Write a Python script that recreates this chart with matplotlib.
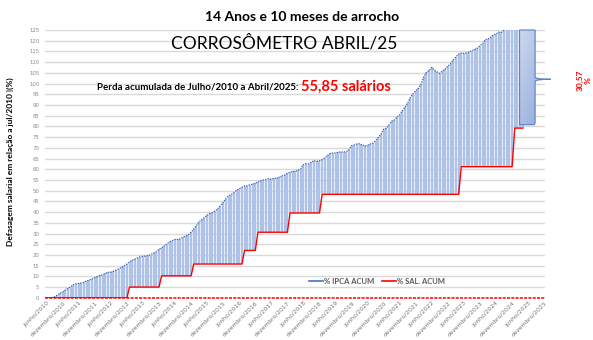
import numpy as np
import matplotlib
matplotlib.use("Agg")
import matplotlib.pyplot as plt
from matplotlib.path import Path
from matplotlib.patches import PathPatch
from matplotlib.lines import Line2D
from matplotlib.colors import LinearSegmentedColormap

# % IPCA acumulado desde jun/2010 (um valor por mes)
ipca_2010 = [0.00, 0.01, 0.05, 0.50, 1.25, 2.09, 2.74]  # jun-dez
ipca_2011 = [3.59, 4.42, 5.24, 6.05, 6.55, 6.71, 6.88, 7.27, 7.84, 8.31, 8.87, 9.41]
ipca_2012 = [10.02, 10.52, 10.75, 11.46, 11.86, 11.95, 12.43, 12.89, 13.53, 14.20, 14.89, 15.79]
ipca_2013 = [16.79, 17.49, 18.04, 18.69, 19.13, 19.44, 19.48, 19.77, 20.19, 20.87, 21.52, 22.64]
ipca_2014 = [23.31, 24.16, 25.30, 26.14, 26.72, 27.23, 27.24, 27.56, 28.29, 28.83, 29.49, 30.50]
ipca_2015 = [32.12, 33.73, 35.49, 36.45, 37.46, 38.55, 39.41, 39.72, 40.47, 41.62, 43.05, 44.42]
ipca_2016 = [46.25, 47.57, 48.21, 49.11, 50.27, 50.80, 51.58, 52.25, 52.37, 52.77, 53.04, 53.50]
ipca_2017 = [54.08, 54.59, 54.98, 55.20, 55.68, 55.32, 55.69, 55.99, 56.24, 56.90, 57.34, 58.03]
ipca_2018 = [58.49, 59.00, 59.14, 59.49, 60.13, 62.15, 62.68, 62.54, 63.32, 64.05, 63.71, 63.95]
ipca_2019 = [64.48, 65.19, 66.43, 67.38, 67.59, 67.61, 67.93, 68.11, 68.04, 68.21, 69.07, 71.01]
ipca_2020 = [71.37, 71.80, 71.92, 71.39, 70.74, 71.18, 71.80, 72.21, 73.31, 74.80, 76.36, 78.74]
ipca_2021 = [79.19, 80.73, 82.41, 82.97, 84.49, 85.47, 87.25, 88.88, 91.07, 93.46, 95.30, 96.72]
ipca_2022 = [97.78, 99.78, 103.02, 105.17, 106.13, 107.51, 106.10, 105.36, 104.76, 105.97, 106.81, 108.10]
ipca_2023 = [109.20, 110.96, 112.46, 113.75, 114.24, 114.07, 114.33, 114.82, 115.38, 115.90, 116.50, 117.72]
ipca_2024 = [118.63, 120.45, 120.80, 121.64, 122.66, 123.13, 123.98, 123.93, 124.92, 126.18, 127.06, 128.24]
ipca_2025 = [128.61, 131.60, 132.90, 133.90]  # jan-abr

# % reajuste salarial acumulado
sal_2010 = [0, 0, 0, 0, 0, 0, 0]
sal_2011 = [0, 0, 0, 0, 0, 0, 0, 0, 0, 0, 0, 0]
sal_2012 = [0, 0, 0, 0, 0, 0, 0, 0, 0, 0, 0, 0]
sal_2013 = [5.0, 5.0, 5.0, 5.0, 5.0, 5.0, 5.0, 5.0, 5.0, 5.0, 5.0, 5.0]
sal_2014 = [10.25, 10.25, 10.25, 10.25, 10.25, 10.25, 10.25, 10.25, 10.25, 10.25, 10.25, 10.25]
sal_2015 = [15.76, 15.76, 15.76, 15.76, 15.76, 15.76, 15.76, 15.76, 15.76, 15.76, 15.76, 15.76]
sal_2016 = [15.76, 15.76, 15.76, 15.76, 15.76, 15.76, 15.76, 22.1, 22.1, 22.1, 22.1, 22.1]
sal_2017 = [30.6, 30.6, 30.6, 30.6, 30.6, 30.6, 30.6, 30.6, 30.6, 30.6, 30.6, 30.6]
sal_2018 = [39.6, 39.6, 39.6, 39.6, 39.6, 39.6, 39.6, 39.6, 39.6, 39.6, 39.6, 39.6]
sal_2019 = [48.3, 48.3, 48.3, 48.3, 48.3, 48.3, 48.3, 48.3, 48.3, 48.3, 48.3, 48.3]
sal_2020 = [48.3, 48.3, 48.3, 48.3, 48.3, 48.3, 48.3, 48.3, 48.3, 48.3, 48.3, 48.3]
sal_2021 = [48.3, 48.3, 48.3, 48.3, 48.3, 48.3, 48.3, 48.3, 48.3, 48.3, 48.3, 48.3]
sal_2022 = [48.3, 48.3, 48.3, 48.3, 48.3, 48.3, 48.3, 48.3, 48.3, 48.3, 48.3, 48.3]
sal_2023 = [48.3, 48.3, 48.3, 48.3, 61.2, 61.2, 61.2, 61.2, 61.2, 61.2, 61.2, 61.2]
sal_2024 = [61.2, 61.2, 61.2, 61.2, 61.2, 61.2, 61.2, 61.2, 61.2, 61.2, 61.2, 61.2]
sal_2025 = [79.2, 79.2, 79.2, 79.2]

tick_labels = ["junho/2010", "dezembro/2010", "junho/2011", "dezembro/2011",
               "junho/2012", "dezembro/2012", "junho/2013", "dezembro/2013",
               "junho/2014", "dezembro/2014", "junho/2015", "dezembro/2015",
               "junho/2016", "dezembro/2016", "junho/2017", "dezembro/2017",
               "junho/2018", "dezembro/2018", "junho/2019", "dezembro/2019",
               "junho/2020", "dezembro/2020", "junho/2021", "dezembro/2021",
               "junho/2022", "dezembro/2022", "junho/2023", "dezembro/2023",
               "junho/2024", "dezembro/2024", "junho/2025", "dezembro/2025"]

ipca = np.array(ipca_2010 + ipca_2011 + ipca_2012 + ipca_2013 + ipca_2014 + ipca_2015
                + ipca_2016 + ipca_2017 + ipca_2018 + ipca_2019 + ipca_2020 + ipca_2021
                + ipca_2022 + ipca_2023 + ipca_2024 + ipca_2025)
sal = np.array(sal_2010 + sal_2011 + sal_2012 + sal_2013 + sal_2014 + sal_2015
               + sal_2016 + sal_2017 + sal_2018 + sal_2019 + sal_2020 + sal_2021
               + sal_2022 + sal_2023 + sal_2024 + sal_2025, dtype=float)
months = np.arange(len(ipca))
YMAX = 125

W, H = 593, 340
fig = plt.figure(figsize=(W / 100, H / 100), dpi=100)
ax = fig.add_axes([45 / W, 42.2 / H, 500 / W, 267.8 / H])

# barras verticais entre salario e ipca
ax.vlines(months, sal, np.minimum(ipca, YMAX), colors="#adc2e6", lw=1.65, zorder=2)
ax.plot(months, ipca, color="#3a62b0", lw=0.9, ls=(0, (1, 1)), zorder=3)
ax.plot(months, sal, color="#ff0000", lw=1.0, zorder=4)
ax.axhline(0, color="#ff0000", lw=1.1, ls=(0, (2, 0.8)), zorder=4, clip_on=False)

# chave do lado direito (diferenca final)
x0, x1, xt = 176.8, 182.6, 188.5
yb, yt, ym = 80.8, 125.0, 102.0
verts = [(x0, yt), (x1 - 0.6, yt), (x1 + 0.3, yt + 0.3), (x1, yt - 1.2),
         (x1, ym + 1.0), (x1, ym), (xt, ym), (x1, ym),
         (x1, ym - 1.0), (x1, yb + 1.2), (x1, yb), (x1 - 0.6, yb),
         (x0, yb), (x0, yt)]
codes = [Path.MOVETO, Path.LINETO, Path.CURVE3, Path.CURVE3,
         Path.LINETO, Path.CURVE3, Path.CURVE3, Path.CURVE3,
         Path.CURVE3, Path.LINETO, Path.CURVE3, Path.CURVE3,
         Path.LINETO, Path.CLOSEPOLY]
brace_path = Path(verts, codes)
brace_fill = PathPatch(brace_path, facecolor="#b6c8e8", edgecolor="none", zorder=5)
ax.add_patch(brace_fill)
gx, gy = np.meshgrid(np.linspace(0, 1, 32), np.linspace(0, 1, 64))
grad = 0.65 * gy + 0.35 * gx
cmap = LinearSegmentedColormap.from_list("b", ["#ccd8ef", "#98b0dc"])
im = ax.imshow(grad, extent=[x0, x1, yb, yt], origin="upper", cmap=cmap,
               vmin=0, vmax=1, aspect="auto", interpolation="bilinear", zorder=5.5)
im.set_clip_path(brace_fill)
ax.add_patch(PathPatch(brace_path, facecolor="none", edgecolor="#5b7fc7",
                       lw=0.8, zorder=6, clip_on=False))

ax.set_xlim(-0.6, 186.3)
ax.set_ylim(0, YMAX)
ax.set_xticks(np.arange(0, 6 * len(tick_labels), 6))
ax.set_xticklabels(tick_labels, rotation=45, ha="right", rotation_mode="anchor")
ax.set_yticks(np.arange(0, YMAX + 1, 5))
ax.tick_params(length=0, labelsize=3.9, colors="#8c8c8c")
ax.tick_params(axis="x", pad=2, labelsize=4.3, labelcolor="#737373")
ax.tick_params(axis="y", pad=4)
ax.yaxis.grid(True, color="#d9d9d9", lw=1)
ax.set_axisbelow(True)
for s in ax.spines.values():
    s.set_visible(False)

def fx(px):
    return px / W

def fy(py):
    return 1 - py / H

fig.text(fx(302), fy(17), "14 Anos e 10 meses de arrocho", ha="center", va="center",
         fontsize=10, weight="bold", family="Lato")
fig.text(fx(284), fy(43), "CORROSÔMETRO ABRIL/25", ha="center", va="center",
         fontsize=12.5, family="Lato")
t1 = fig.text(fx(97), fy(87), "Perda acumulada de Julho/2010 a Abril/2025: ", ha="left",
              va="center", fontsize=7, weight="bold", family="Lato")
ax.annotate("55,85 salários", xy=(1, 0.5), xycoords=t1, ha="left", va="center",
            fontsize=10.5, weight="bold", color="#ff0000", family="Lato")
fig.text(fx(10), fy(162), "Defasagem salarial em relação a jul/2010 |(%)", rotation=90,
         ha="center", va="center", fontsize=6, weight="bold", family="Lato")
fig.text(fx(584), fy(80), "30,57\n%", rotation=90, ha="center", va="center",
         multialignment="center", fontsize=6, weight="bold", color="#ff0000", family="Lato")

handles = [Line2D([], [], color="#4472c4", lw=1.2), Line2D([], [], color="#ff0000", lw=1.2)]
fig.legend(handles, ["% IPCA ACUM", "% SAL. ACUM"], loc="center",
           bbox_to_anchor=(fx(377), fy(281)), ncol=2, frameon=False,
           prop={"family": "Lato", "weight": "bold", "size": 5.5}, labelcolor="#595959",
           handlelength=1.8, handletextpad=0.2, columnspacing=1.0)

fig.savefig("out.png", dpi=100)
